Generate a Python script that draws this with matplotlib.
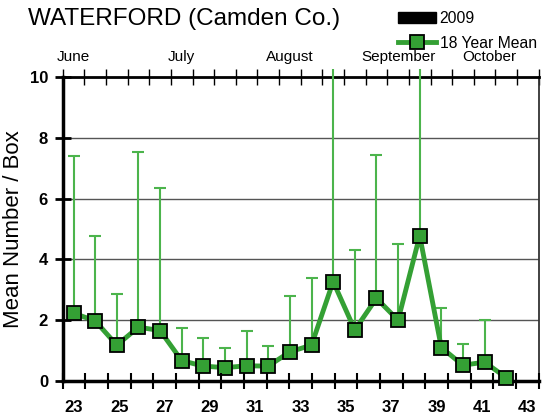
import matplotlib
matplotlib.use("Agg")
import matplotlib.pyplot as plt
import numpy as np
from matplotlib.lines import Line2D
from matplotlib.patches import Patch
from matplotlib.transforms import Bbox, TransformedBbox, blended_transform_factory

plt.rcParams['font.family'] = ['Liberation Sans', 'DejaVu Sans']

# 18 year mean, one value per sampling week (weeks 23..42)
mean_vals = [2.23, 1.98, 1.18, 1.77, 1.66, 0.67, 0.49, 0.44, 0.50, 0.49, 0.96,
             1.18, 3.27, 1.68, 2.72, 2.00, 4.78, 1.10, 0.52, 0.62, 0.11]
# top of the error bars (values past 10 are cut off in the picture)
err_top = [7.40, 4.78, 2.85, 7.53, 6.36, 1.74, 1.41, 1.09, 1.64, 1.16, 2.80,
           3.38, 10.5, 4.31, 7.43, 4.50, 10.5, 2.39, 1.21, 2.00, 0.11]
months = ["June", "July", "August", "September", "October"]
month_pos = [0, 5, 10, 15, 19.2]
week_labels = [23, 25, 27, 29, 31, 33, 35, 37, 39, 41, 43]

line_green = '#34a034'
err_green = '#4cb44c'

fig = plt.figure(figsize=(5.42, 4.20), dpi=100)
ax = fig.add_axes([62.7/542, 1-381/420, 476/542, 304/420])

idx = np.arange(len(mean_vals))
mean = np.array(mean_vals)
up = np.array(err_top) - mean

# error bars run a little past the top of the plot, then get cut
err_clip = TransformedBbox(Bbox([[0, 0], [1, 1-69/420]]), fig.transFigure)
eb = ax.errorbar(idx, mean, yerr=[np.zeros_like(up), up], fmt='none',
                 ecolor=err_green, elinewidth=1.5, capsize=4.5, capthick=1.5,
                 zorder=3)
for art in eb.lines[1] + eb.lines[2]:
    art.set_clip_box(err_clip)
ax.plot(idx, mean, '-', color=line_green, lw=3.5, marker='s', ms=9.5,
        mfc=line_green, mec='black', mew=1.3, zorder=4, clip_on=False)

ax.set_xlim(-0.5, 21.5)
ax.set_ylim(0, 10)
ax.set_yticks(np.arange(0, 11, 2))
ax.yaxis.grid(True, color='#555555', lw=1)
ax.set_axisbelow(True)
ax.tick_params(axis='y', direction='inout', length=11, width=2, pad=5,
               labelsize=12)
for lab in ax.get_yticklabels():
    lab.set_fontweight('bold')

ax.set_ylabel("Mean Number / Box", fontsize=16)
ax.yaxis.set_label_coords(-0.081, 0.5)

ax.spines['left'].set_linewidth(2.5)
ax.spines['bottom'].set_linewidth(2.5)
ax.spines['top'].set_linewidth(2)
ax.spines['right'].set_linewidth(1.3)
ax.spines['right'].set_color('#333333')

# bottom week axis
axw = ax.twiny()
axw.set_xlim(22.5, 43.5)
axw.xaxis.set_ticks_position('bottom')
axw.set_xticks(np.arange(22.5, 43.6, 1))
axw.set_xticklabels([])
axw.set_xticks(week_labels, minor=True)
axw.set_xticklabels([str(w) for w in week_labels], minor=True,
                    fontsize=12, fontweight='bold')
axw.tick_params(axis='x', which='major', direction='inout', length=11,
                width=1.5)
axw.tick_params(axis='x', which='minor', length=0, pad=14)
for s in axw.spines.values():
    s.set_visible(False)

# top ticks on sample index positions (after twiny, which resets them)
ax.set_xticks(np.arange(-0.5, 21.6, 1))
ax.tick_params(axis='x', bottom=False, labelbottom=False, top=True,
               labeltop=False, direction='inout', length=11, width=1)

# month labels above the plot, clipped at the bottom like the original
clip = TransformedBbox(Bbox([[0, 1-63.5/420], [1, 1]]), fig.transFigure)
trans = blended_transform_factory(ax.transData, fig.transFigure)
for m, p in zip(months, month_pos):
    t = ax.text(p, 1-57/420, m, transform=trans, ha='center', va='center',
                fontsize=11)
    t.set_clip_box(clip)
    t.set_clip_on(True)

fig.text(28/542, 1-19/420, "WATERFORD (Camden Co.)", fontsize=17.5,
         ha='left', va='center')

handles = [Patch(facecolor='black', edgecolor='black'),
           Line2D([], [], color=line_green, lw=3.5, marker='s', ms=9.5,
                  mfc=line_green, mec='black', mew=1.3)]
fig.legend(handles, ["2009", "18 Year Mean"], loc='upper left',
           bbox_to_anchor=(398/542, 1-11/420), frameon=False, fontsize=11.3,
           handlelength=2.45, handletextpad=0.2, labelspacing=0.62,
           borderpad=0, borderaxespad=0)

fig.savefig("out.png", dpi=100)
